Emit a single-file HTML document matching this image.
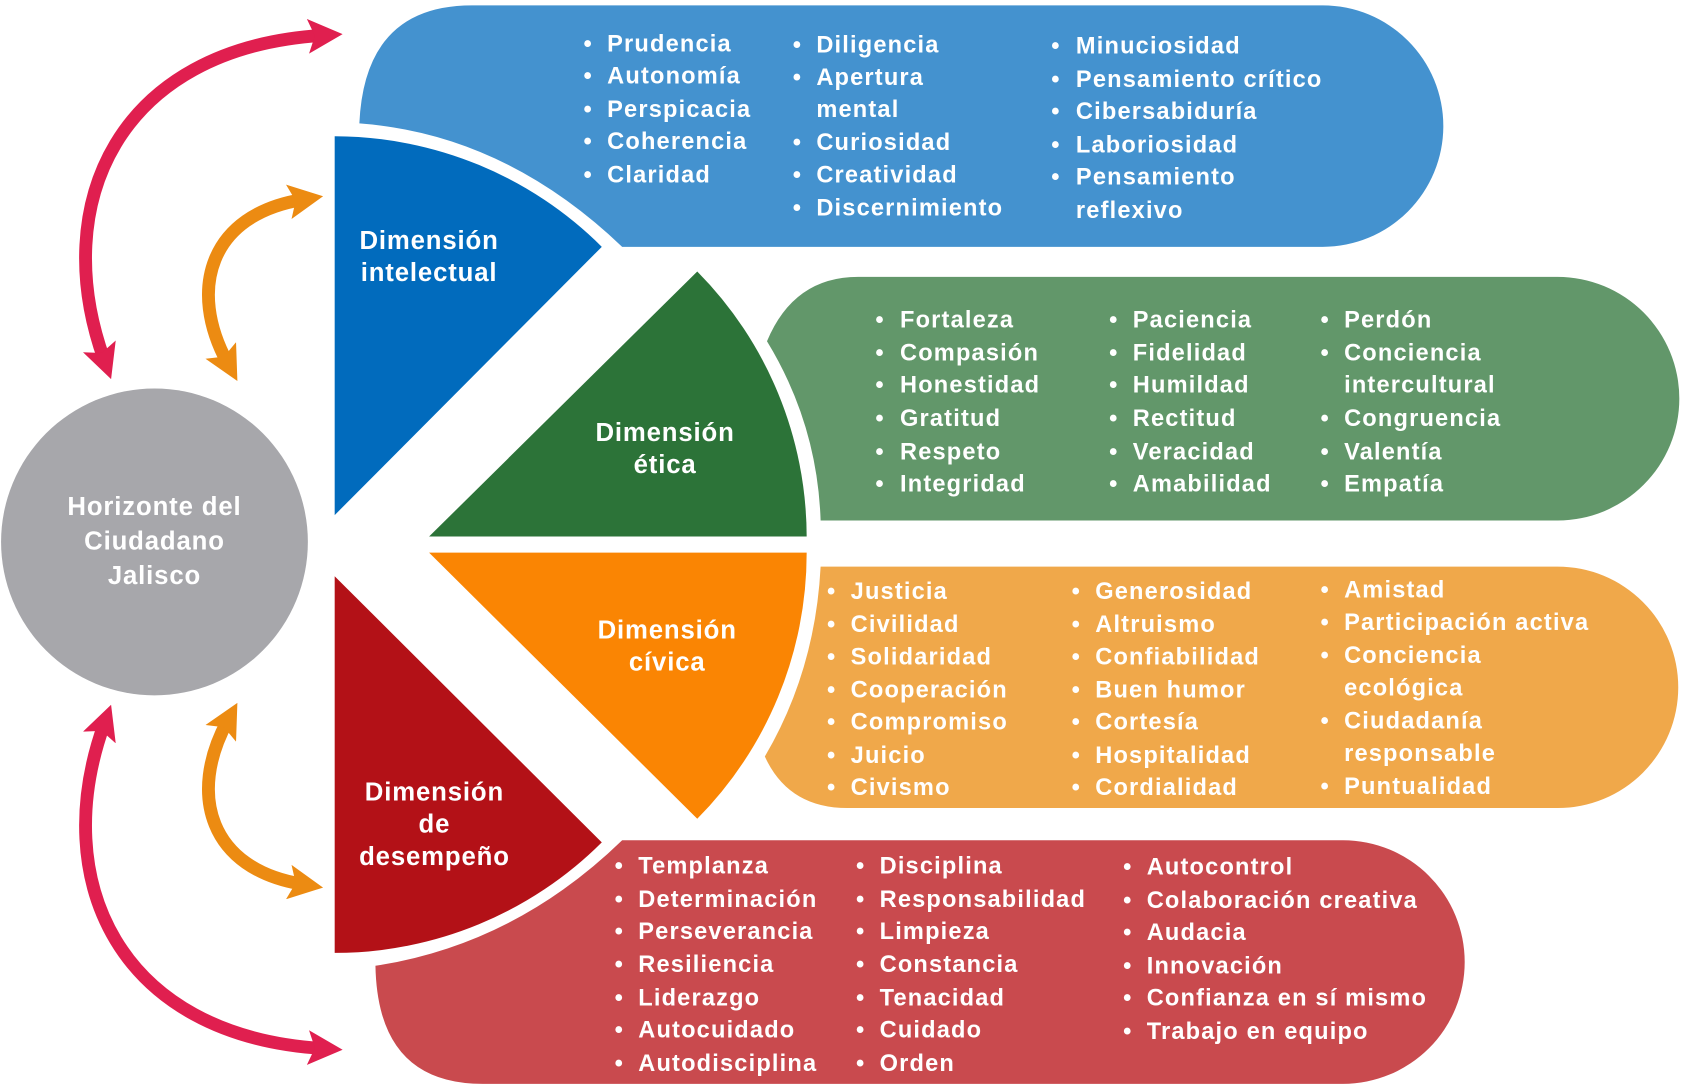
<!DOCTYPE html>
<html><head><meta charset="utf-8"><style>
html,body{margin:0;padding:0;background:#fff;}
svg{display:block;}
text{font-family:"Liberation Sans",sans-serif;font-weight:bold;fill:#fff;}
.l{font-size:22px;letter-spacing:1.1px;}
.d{font-size:24px;letter-spacing:0.8px;}
</style></head><body>
<svg width="1682" height="1086" viewBox="0 0 1568 1012" preserveAspectRatio="none" xmlns="http://www.w3.org/2000/svg">
<defs>
<marker id="mr" viewBox="0 0 10 10" refX="4" refY="5" markerWidth="2.7" markerHeight="2.7" orient="auto-start-reverse"><path d="M0,0 L10,5 L0,10 L2,5 Z" fill="#e01f4f"/></marker>
<marker id="mo" viewBox="0 0 10 10" refX="4" refY="5" markerWidth="2.7" markerHeight="2.7" orient="auto-start-reverse"><path d="M0,0 L10,5 L0,10 L2,5 Z" fill="#ec8b12"/></marker>
</defs>
<path d="M335,115 Q340,5 440,5 H1233 A112.5,112.5 0 0 1 1233,230 H580 Q470,125 335,115 Z" fill="#4492cf"/>
<path d="M715,318 Q740,258 800,258 H1452 A113.5,113.5 0 0 1 1452,485 H765 Q762,395 715,318 Z" fill="#62976a"/>
<path d="M765,528 H1452 A112.5,112.5 0 0 1 1452,753 H790 Q735,753 713,705 Q760,625 765,528 Z" fill="#f0a84a"/>
<path d="M580,783 H1252 A113.5,113.5 0 0 1 1252,1010 H450 Q352,1010 350,900 Q480,880 580,783 Z" fill="#c94a4e"/>
<path d="M312,480 L312,127 A353,353 0 0 1 561,230 Z" fill="#016bbd"/>
<path d="M400,500 L650,253 A352,352 0 0 1 752,500 Z" fill="#2c7338"/>
<path d="M400,515 L752,515 A352,352 0 0 1 650,763 Z" fill="#fa8503"/>
<path d="M312,537 L561,785 A353,353 0 0 1 312,888 Z" fill="#b31117"/>
<circle cx="144" cy="505" r="143" fill="#a7a7ab"/>
<path d="M97,335 C45,190 110,45 300,33" fill="none" stroke="#e01f4f" stroke-width="12" marker-start="url(#mr)" marker-end="url(#mr)"/>
<path d="M97,675 C45,820 110,965 300,977" fill="none" stroke="#e01f4f" stroke-width="12" marker-start="url(#mr)" marker-end="url(#mr)"/>
<path d="M212,338 C175,270 195,200 282,186" fill="none" stroke="#ec8b12" stroke-width="12" marker-start="url(#mo)" marker-end="url(#mo)"/>
<path d="M212,672 C175,740 195,810 282,824" fill="none" stroke="#ec8b12" stroke-width="12" marker-start="url(#mo)" marker-end="url(#mo)"/>
<g class="d" text-anchor="middle">
<text x="144" y="480">Horizonte del</text><text x="144" y="512">Ciudadano</text><text x="144" y="544">Jalisco</text>
<text x="400" y="232">Dimensión</text><text x="400" y="262">intelectual</text>
<text x="620" y="411">Dimensión</text><text x="620" y="441">ética</text>
<text x="622" y="595">Dimensión</text><text x="622" y="625">cívica</text>
<text x="405" y="746">Dimensión</text><text x="405" y="776">de</text><text x="405" y="806">desempeño</text>
</g>
<g class="l">
<text><tspan x="544" y="48">•</tspan><tspan x="566">Prudencia</tspan><tspan x="544" y="78">•</tspan><tspan x="566">Autonomía</tspan><tspan x="544" y="109">•</tspan><tspan x="566">Perspicacia</tspan><tspan x="544" y="139">•</tspan><tspan x="566">Coherencia</tspan><tspan x="544" y="170">•</tspan><tspan x="566">Claridad</tspan></text>
<text><tspan x="739" y="49">•</tspan><tspan x="761">Diligencia</tspan><tspan x="739" y="79">•</tspan><tspan x="761">Apertura</tspan><tspan x="761" y="109">mental</tspan><tspan x="739" y="140">•</tspan><tspan x="761">Curiosidad</tspan><tspan x="739" y="170">•</tspan><tspan x="761">Creatividad</tspan><tspan x="739" y="201">•</tspan><tspan x="761">Discernimiento</tspan></text>
<text><tspan x="980" y="50">•</tspan><tspan x="1003">Minuciosidad</tspan><tspan x="980" y="81">•</tspan><tspan x="1003">Pensamiento crítico</tspan><tspan x="980" y="111">•</tspan><tspan x="1003">Cibersabiduría</tspan><tspan x="980" y="142">•</tspan><tspan x="1003">Laboriosidad</tspan><tspan x="980" y="172">•</tspan><tspan x="1003">Pensamiento</tspan><tspan x="1003" y="203">reflexivo</tspan></text>
<text><tspan x="816" y="305">•</tspan><tspan x="839">Fortaleza</tspan><tspan x="816" y="336">•</tspan><tspan x="839">Compasión</tspan><tspan x="816" y="366">•</tspan><tspan x="839">Honestidad</tspan><tspan x="816" y="397">•</tspan><tspan x="839">Gratitud</tspan><tspan x="816" y="428">•</tspan><tspan x="839">Respeto</tspan><tspan x="816" y="458">•</tspan><tspan x="839">Integridad</tspan></text>
<text><tspan x="1034" y="305">•</tspan><tspan x="1056">Paciencia</tspan><tspan x="1034" y="336">•</tspan><tspan x="1056">Fidelidad</tspan><tspan x="1034" y="366">•</tspan><tspan x="1056">Humildad</tspan><tspan x="1034" y="397">•</tspan><tspan x="1056">Rectitud</tspan><tspan x="1034" y="428">•</tspan><tspan x="1056">Veracidad</tspan><tspan x="1034" y="458">•</tspan><tspan x="1056">Amabilidad</tspan></text>
<text><tspan x="1231" y="305">•</tspan><tspan x="1253">Perdón</tspan><tspan x="1231" y="336">•</tspan><tspan x="1253">Conciencia</tspan><tspan x="1253" y="366">intercultural</tspan><tspan x="1231" y="397">•</tspan><tspan x="1253">Congruencia</tspan><tspan x="1231" y="428">•</tspan><tspan x="1253">Valentía</tspan><tspan x="1231" y="458">•</tspan><tspan x="1253">Empatía</tspan></text>
<text><tspan x="771" y="558">•</tspan><tspan x="793">Justicia</tspan><tspan x="771" y="589">•</tspan><tspan x="793">Civilidad</tspan><tspan x="771" y="619">•</tspan><tspan x="793">Solidaridad</tspan><tspan x="771" y="650">•</tspan><tspan x="793">Cooperación</tspan><tspan x="771" y="680">•</tspan><tspan x="793">Compromiso</tspan><tspan x="771" y="711">•</tspan><tspan x="793">Juicio</tspan><tspan x="771" y="741">•</tspan><tspan x="793">Civismo</tspan></text>
<text><tspan x="999" y="558">•</tspan><tspan x="1021">Generosidad</tspan><tspan x="999" y="589">•</tspan><tspan x="1021">Altruismo</tspan><tspan x="999" y="619">•</tspan><tspan x="1021">Confiabilidad</tspan><tspan x="999" y="650">•</tspan><tspan x="1021">Buen humor</tspan><tspan x="999" y="680">•</tspan><tspan x="1021">Cortesía</tspan><tspan x="999" y="711">•</tspan><tspan x="1021">Hospitalidad</tspan><tspan x="999" y="741">•</tspan><tspan x="1021">Cordialidad</tspan></text>
<text><tspan x="1231" y="557">•</tspan><tspan x="1253">Amistad</tspan><tspan x="1231" y="587">•</tspan><tspan x="1253">Participación activa</tspan><tspan x="1231" y="618">•</tspan><tspan x="1253">Conciencia</tspan><tspan x="1253" y="648">ecológica</tspan><tspan x="1231" y="679">•</tspan><tspan x="1253">Ciudadanía</tspan><tspan x="1253" y="709">responsable</tspan><tspan x="1231" y="740">•</tspan><tspan x="1253">Puntualidad</tspan></text>
<text><tspan x="573" y="814">•</tspan><tspan x="595">Templanza</tspan><tspan x="573" y="845">•</tspan><tspan x="595">Determinación</tspan><tspan x="573" y="875">•</tspan><tspan x="595">Perseverancia</tspan><tspan x="573" y="906">•</tspan><tspan x="595">Resiliencia</tspan><tspan x="573" y="937">•</tspan><tspan x="595">Liderazgo</tspan><tspan x="573" y="967">•</tspan><tspan x="595">Autocuidado</tspan><tspan x="573" y="998">•</tspan><tspan x="595">Autodisciplina</tspan></text>
<text><tspan x="798" y="814">•</tspan><tspan x="820">Disciplina</tspan><tspan x="798" y="845">•</tspan><tspan x="820">Responsabilidad</tspan><tspan x="798" y="875">•</tspan><tspan x="820">Limpieza</tspan><tspan x="798" y="906">•</tspan><tspan x="820">Constancia</tspan><tspan x="798" y="937">•</tspan><tspan x="820">Tenacidad</tspan><tspan x="798" y="967">•</tspan><tspan x="820">Cuidado</tspan><tspan x="798" y="998">•</tspan><tspan x="820">Orden</tspan></text>
<text><tspan x="1047" y="815">•</tspan><tspan x="1069">Autocontrol</tspan><tspan x="1047" y="846">•</tspan><tspan x="1069">Colaboración creativa</tspan><tspan x="1047" y="876">•</tspan><tspan x="1069">Audacia</tspan><tspan x="1047" y="907">•</tspan><tspan x="1069">Innovación</tspan><tspan x="1047" y="937">•</tspan><tspan x="1069">Confianza en sí mismo</tspan><tspan x="1047" y="968">•</tspan><tspan x="1069">Trabajo en equipo</tspan></text>
</g>
</svg>
</body></html>
